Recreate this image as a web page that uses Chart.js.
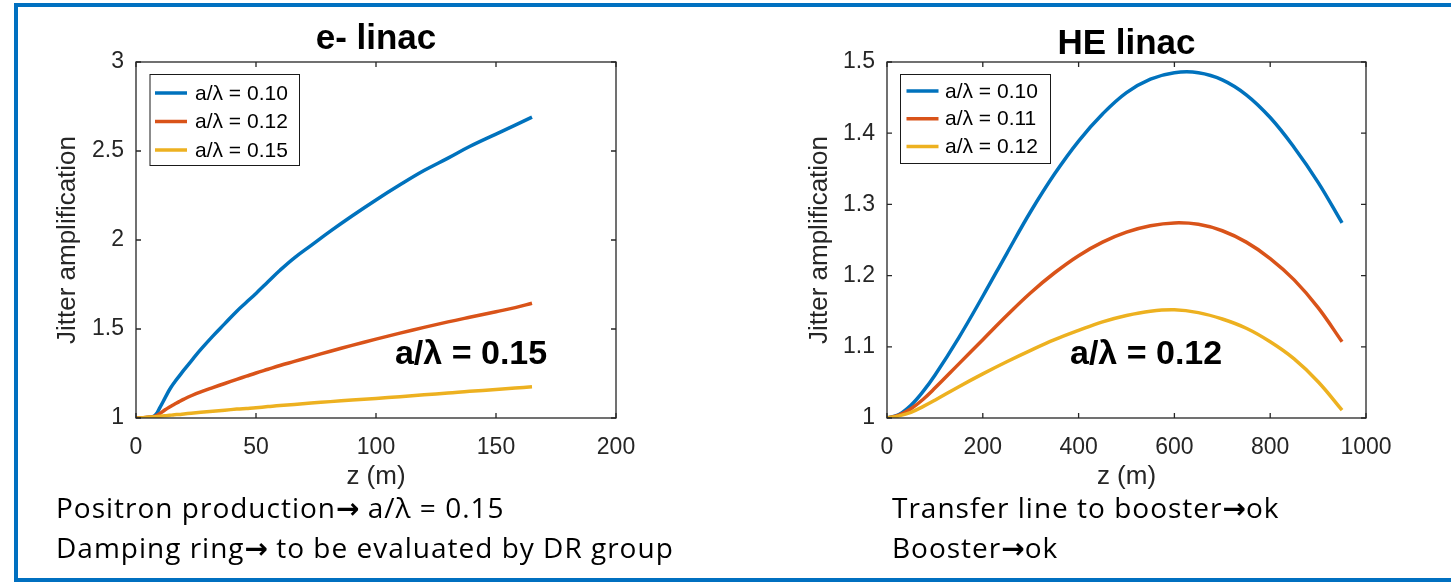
<!DOCTYPE html>
<html>
<head>
<meta charset="utf-8">
<script src="https://cdn.jsdelivr.net/npm/chart.js@4.4.1/dist/chart.umd.min.js"></script>
<style>
html,body{margin:0;padding:0;background:#fff;}
body{width:1451px;height:582px;position:relative;overflow:hidden;}
#frame{position:absolute;left:14px;top:3px;width:1470px;height:579px;box-sizing:border-box;border:4px solid #0070C0;}
canvas{position:absolute;top:0;}
#cL{left:0;}
#cR{left:700px;}
.note{position:absolute;font-family:'Open Sans',sans-serif;font-size:28px;line-height:38px;letter-spacing:1px;color:#000;white-space:nowrap;}
.arr{font-family:'DejaVu Sans',sans-serif;font-weight:bold;letter-spacing:0;}
</style>
</head>
<body>
<div id="frame"></div>
<canvas id="cL" width="700" height="582"></canvas>
<canvas id="cR" width="751" height="582"></canvas>
<div class="note" id="nL" style="left:56px;top:488px;"></div>
<div class="note" id="nR" style="left:892px;top:488px;"></div>
<script>
// ---------- data ----------
const titleL = 'e- linac';
const titleR = 'HE linac';
const xTitle = 'z (m)';
const yTitle = 'Jitter amplification';

const seriesLabelsL = ['a/\u03bb = 0.10', 'a/\u03bb = 0.12', 'a/\u03bb = 0.15'];
const seriesLabelsR = ['a/\u03bb = 0.10', 'a/\u03bb = 0.11', 'a/\u03bb = 0.12'];
const annotationL = 'a/\u03bb = 0.15';
const annotationR = 'a/\u03bb = 0.12';
const notesL = ['Positron production\u2192 a/\u03bb = 0.15', 'Damping ring\u2192 to be evaluated by DR group'];
const notesR = ['Transfer line to booster\u2192ok', 'Booster\u2192ok'];

// e- linac
const zL = [0, 3, 6, 8, 10, 12, 14, 16, 18, 20, 23, 27, 32, 37, 42, 46, 50, 55, 60, 66, 73, 81, 90, 100, 110, 120, 130, 139, 150, 158, 165];
const ampL010 = [1, 1.001, 1.005, 1.015, 1.06, 1.11, 1.16, 1.2, 1.235, 1.27, 1.32, 1.385, 1.46, 1.53, 1.6, 1.65, 1.7, 1.765, 1.83, 1.9, 1.97, 2.05, 2.135, 2.225, 2.31, 2.39, 2.46, 2.525, 2.595, 2.645, 2.69];
const ampL012 = [1, 1.002, 1.005, 1.01, 1.025, 1.045, 1.062, 1.077, 1.092, 1.106, 1.125, 1.147, 1.171, 1.194, 1.217, 1.235, 1.253, 1.274, 1.295, 1.318, 1.345, 1.375, 1.408, 1.443, 1.477, 1.509, 1.54, 1.566, 1.597, 1.62, 1.645];
const ampL015 = [1, 1.002, 1.005, 1.007, 1.01, 1.012, 1.015, 1.018, 1.02, 1.023, 1.027, 1.032, 1.038, 1.044, 1.05, 1.054, 1.058, 1.064, 1.07, 1.076, 1.084, 1.092, 1.101, 1.11, 1.12, 1.13, 1.14, 1.15, 1.16, 1.168, 1.176];
const xTicksL = [0, 50, 100, 150, 200];
const xTickLabelsL = ['0', '50', '100', '150', '200'];
const yTicksL = [1, 1.5, 2, 2.5, 3];
const yTickLabelsL = ['1', '1.5', '2', '2.5', '3'];

// HE linac
const zR = [0, 25, 50, 75, 100, 150, 200, 250, 300, 350, 400, 450, 500, 550, 600, 650, 700, 750, 800, 850, 900, 950];
const ampR010 = [1, 1.005, 1.018, 1.037, 1.06, 1.113, 1.171, 1.231, 1.29, 1.343, 1.389, 1.427, 1.457, 1.476, 1.485, 1.485, 1.475, 1.454, 1.422, 1.38, 1.331, 1.274];
const ampR011 = [1, 1.004, 1.013, 1.026, 1.042, 1.076, 1.11, 1.144, 1.176, 1.204, 1.228, 1.247, 1.261, 1.27, 1.274, 1.272, 1.263, 1.247, 1.224, 1.194, 1.155, 1.107];
const ampR012 = [1, 1.003, 1.008, 1.016, 1.025, 1.044, 1.062, 1.079, 1.095, 1.11, 1.123, 1.135, 1.144, 1.15, 1.152, 1.148, 1.139, 1.126, 1.107, 1.083, 1.051, 1.011];
const xTicksR = [0, 200, 400, 600, 800, 1000];
const xTickLabelsR = ['0', '200', '400', '600', '800', '1000'];
const yTicksR = [1, 1.1, 1.2, 1.3, 1.4, 1.5];
const yTickLabelsR = ['1', '1.1', '1.2', '1.3', '1.4', '1.5'];

// ---------- styles ----------
const lineColors = ['#0072BD', '#D95319', '#EDB120'];
const axisColor = '#262626';
const tickFont = {family: "'Liberation Sans', Arial, sans-serif", size: 23};
const axisTitleFont = {family: "'Liberation Sans', Arial, sans-serif", size: 26};
const legendFont = "21px 'Liberation Sans', Arial, sans-serif";
const annotFont = "bold 34px 'Liberation Sans', Arial, sans-serif";
const chartTitleFont = {family: "'Liberation Sans', Arial, sans-serif", size: 35, weight: 'bold', lineHeight: 1};

function noteHtml(lines) {
  return lines.map(t => {
    const d = document.createElement('div');
    t.split('\u2192').forEach((part, i) => {
      if (i > 0) {
        const s = document.createElement('span');
        s.className = 'arr';
        s.textContent = '\u2192';
        d.appendChild(s);
      }
      d.appendChild(document.createTextNode(part));
    });
    return d;
  });
}
noteHtml(notesL).forEach(d => document.getElementById('nL').appendChild(d));
noteHtml(notesR).forEach(d => document.getElementById('nR').appendChild(d));

const pts = (xs, ys) => xs.map((x, i) => ({x: x, y: ys[i]}));

// MATLAB-style box, inward ticks, boxed legend and annotation
const matlabPlugin = {
  id: 'matlabBox',
  afterDatasetsDraw(chart, args, o) {
    const ctx = chart.ctx;
    const a = chart.chartArea;
    const xs = chart.scales.x, ys = chart.scales.y;
    ctx.save();
    ctx.strokeStyle = axisColor;
    ctx.lineWidth = 1.3;
    ctx.strokeRect(a.left, a.top, a.right - a.left, a.bottom - a.top);
    const tl = 5;
    ctx.beginPath();
    xs.ticks.forEach(t => {
      const px = xs.getPixelForValue(t.value);
      ctx.moveTo(px, a.bottom); ctx.lineTo(px, a.bottom - tl);
      ctx.moveTo(px, a.top); ctx.lineTo(px, a.top + tl);
    });
    ys.ticks.forEach(t => {
      const py = ys.getPixelForValue(t.value);
      ctx.moveTo(a.left, py); ctx.lineTo(a.left + tl, py);
      ctx.moveTo(a.right, py); ctx.lineTo(a.right - tl, py);
    });
    ctx.stroke();

    // legend
    const L = o.legend;
    const bx = a.left + L.x, by = a.top + L.y;
    ctx.fillStyle = '#fff';
    ctx.fillRect(bx, by, L.w, L.h);
    ctx.strokeStyle = '#1a1a1a';
    ctx.lineWidth = 1;
    ctx.strokeRect(bx + 0.5, by + 0.5, L.w, L.h);
    ctx.font = legendFont;
    ctx.textBaseline = 'middle';
    ctx.textAlign = 'left';
    chart.data.datasets.forEach((ds, i) => {
      const yy = by + L.row0 + i * L.rowStep;
      ctx.strokeStyle = ds.borderColor;
      ctx.lineWidth = 3.5;
      ctx.beginPath();
      ctx.moveTo(bx + L.line0, yy);
      ctx.lineTo(bx + L.line0 + L.lineLen, yy);
      ctx.stroke();
      ctx.fillStyle = '#000';
      ctx.fillText(ds.label, bx + L.text0, yy + 1);
    });

    // annotation
    const an = o.annotation;
    ctx.font = annotFont;
    ctx.fillStyle = '#000';
    ctx.textBaseline = 'middle';
    ctx.fillText(an.text, xs.getPixelForValue(an.x), ys.getPixelForValue(an.y));
    ctx.restore();
  }
};

function makeChart(id, cfg) {
  return new Chart(document.getElementById(id), {
    type: 'line',
    data: {
      datasets: cfg.series.map((s, i) => ({
        label: cfg.labels[i],
        data: pts(cfg.z, s),
        borderColor: lineColors[i],
        backgroundColor: lineColors[i],
        borderWidth: 3.5,
        pointRadius: 0,
        tension: 0.4,
        order: 3 - i
      }))
    },
    options: {
      responsive: false,
      animation: false,
      events: [],
      layout: {padding: {left: 0, top: 0, right: cfg.padRight, bottom: 0}},
      plugins: {
        legend: {display: false},
        tooltip: {enabled: false},
        title: {
          display: true, text: cfg.title, fullSize: false,
          color: '#000', font: chartTitleFont,
          padding: {top: cfg.titleTop, bottom: 62 - 35 - cfg.titleTop}
        },
        matlabBox: {legend: cfg.legend, annotation: cfg.annotation}
      },
      scales: {
        x: {
          type: 'linear', min: cfg.xTicks[0], max: cfg.xTicks[cfg.xTicks.length - 1],
          grid: {display: false, drawTicks: false},
          border: {display: false},
          afterBuildTicks: sc => { sc.ticks = cfg.xTicks.map(v => ({value: v})); },
          afterFit: sc => { sc.height = 164; },
          ticks: {color: axisColor, font: tickFont, padding: 16, maxRotation: 0,
                  callback: (v, i) => cfg.xTickLabels[i]},
          title: {display: true, text: xTitle, color: axisColor, font: axisTitleFont,
                  padding: {top: 0, bottom: 89.4}}
        },
        y: {
          type: 'linear', min: cfg.yTicks[0], max: cfg.yTicks[cfg.yTicks.length - 1],
          grid: {display: false, drawTicks: false},
          border: {display: false},
          afterBuildTicks: sc => { sc.ticks = cfg.yTicks.map(v => ({value: v})); },
          afterFit: sc => { sc.width = cfg.yAxisWidth; },
          ticks: {color: axisColor, font: tickFont, padding: 12,
                  callback: (v, i) => cfg.yTickLabels[i]},
          title: {display: true, text: yTitle, color: axisColor, font: axisTitleFont,
                  padding: {top: cfg.yTitlePad, bottom: 0}}
        }
      }
    },
    plugins: [matlabPlugin]
  });
}

makeChart('cL', {
  title: titleL, titleTop: 21.4,
  z: zL, series: [ampL010, ampL012, ampL015], labels: seriesLabelsL,
  xTicks: xTicksL, xTickLabels: xTickLabelsL, yTicks: yTicksL, yTickLabels: yTickLabelsL,
  yAxisWidth: 136, padRight: 84, yTitlePad: 52.4,
  legend: {x: 13.5, y: 12, w: 149.5, h: 91, row0: 19, rowStep: 28.5, line0: 5.5, lineLen: 32, text0: 45.5},
  annotation: {text: annotationL, x: 107.9, y: 1.354}
});

makeChart('cR', {
  title: titleR, titleTop: 27,
  z: zR, series: [ampR010, ampR011, ampR012], labels: seriesLabelsR,
  xTicks: xTicksR, xTickLabels: xTickLabelsR, yTicks: yTicksR, yTickLabels: yTickLabelsR,
  yAxisWidth: 187, padRight: 85, yTitlePad: 104.4,
  legend: {x: 13, y: 12, w: 150, h: 89, row0: 17, rowStep: 27.7, line0: 6.5, lineLen: 32, text0: 45},
  annotation: {text: annotationR, x: 382, y: 1.0885}
});
</script>
</body>
</html>
